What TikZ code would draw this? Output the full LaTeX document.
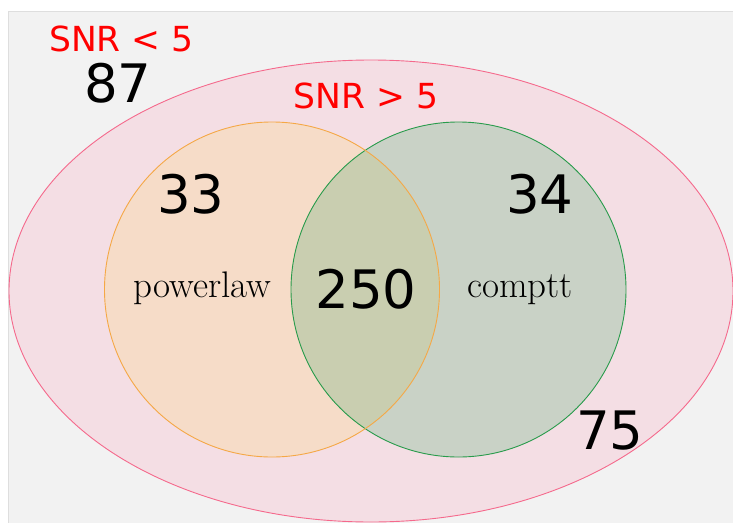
\documentclass[tikz,border=0pt]{standalone}
\usepackage{fontspec}
\newfontfamily\dejavu{DejaVu Sans}
\definecolor{bggray}{RGB}{242,242,242}
\definecolor{bgedge}{RGB}{222,222,222}
\definecolor{pinkfill}{RGB}{244,222,228}
\definecolor{pinkedge}{RGB}{245,105,140}
\definecolor{orangefill}{RGB}{246,220,200}
\definecolor{orangeedge}{RGB}{245,168,70}
\definecolor{greenfill}{RGB}{201,210,198}
\definecolor{greenedge}{RGB}{40,155,75}
\definecolor{bothfill}{RGB}{201,206,176}
\definecolor{snrred}{RGB}{255,0,0}
\tikzset{
  bignum/.style={anchor=base,inner sep=0pt,font=\dejavu\fontsize{53}{60}\selectfont},
  snrlab/.style={anchor=base,inner sep=0pt,text=snrred,font=\dejavu\fontsize{34.5}{40}\selectfont},
  setlab/.style={anchor=base,inner sep=0pt,font=\fontsize{37}{42}\selectfont},
  edge/.style={line width=0.9pt}
}
\begin{document}
\begin{tikzpicture}[x=1pt,y=-1pt]
\useasboundingbox (0,0) rectangle (733,522);
\clip (0,0) rectangle (733,522);
\fill[white] (0,0) rectangle (733,522);
\fill[bggray] (8.5,11.5) rectangle (740,530);
\draw[bgedge,line width=0.8pt] (8.5,530) -- (8.5,11.5) -- (740,11.5);
% sets
\fill[pinkfill] (371,291) ellipse [x radius=362, y radius=231];
\fill[orangefill] (272,289.5) circle [radius=167.5];
\fill[greenfill] (458.5,289.5) circle [radius=167.5];
\begin{scope}
  \clip (272,289.5) circle [radius=167.5];
  \fill[bothfill] (458.5,289.5) circle [radius=167.5];
\end{scope}
\draw[pinkedge,edge] (371,291) ellipse [x radius=362, y radius=231];
\draw[greenedge,edge] (458.5,289.5) circle [radius=167.5];
\draw[orangeedge,edge] (272,289.5) circle [radius=167.5];
% labels
\node[snrlab] (snrlow) at (121.5,51) {SNR < 5};
\node[bignum] (n87) at (118,102) {87};
\node[snrlab] (snrhigh) at (366,108) {SNR > 5};
\node[bignum] (n33) at (191,213) {33};
\node[bignum] (n34) at (540,213) {34};
\node[bignum] (n250) at (366,308) {250};
\node[bignum] (n75) at (610,449.5) {75};
\node[setlab] (pl) at (202.5,297) {powerlaw};
\node[setlab] (ct) at (520,297) {comptt};
\end{tikzpicture}
\end{document}
